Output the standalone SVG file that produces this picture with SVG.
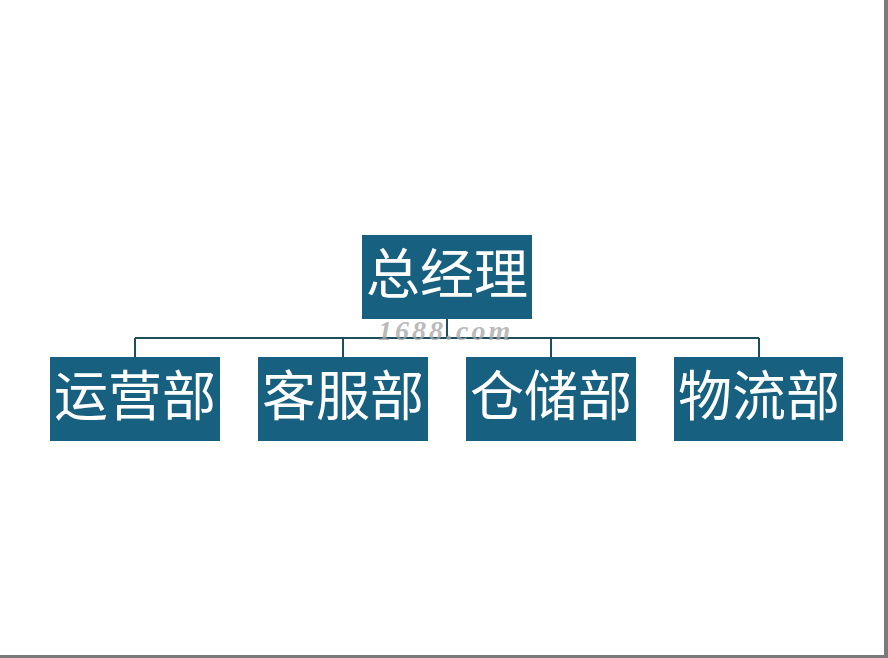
<svg xmlns="http://www.w3.org/2000/svg" width="888" height="658" viewBox="0 0 888 658">
<style>
.box{fill:#17607F;}
.lbl{font-family:"Noto Sans CJK SC","Noto Sans CJK JP",sans-serif;font-size:54px;fill:#ffffff;text-anchor:middle;}
.conn{stroke:#1E4E5E;stroke-width:2;fill:none;}
.wm{font-family:"Liberation Serif",serif;font-style:italic;font-weight:bold;font-size:28px;fill:#a8a8a8;letter-spacing:3px;}
</style>
<rect x="0" y="0" width="888" height="658" fill="#ffffff"/>
<rect x="884" y="0" width="4" height="658" fill="#7a7a7a"/>
<rect x="0" y="655" width="888" height="3" fill="#7a7a7a"/>
<g id="connectors">
<path class="conn" d="M447 318 V338 M135 338 H759 M135 338 V357 M343 338 V357 M551 338 V357 M759 338 V357"/>
</g>
<g id="node-gm"><rect class="box" x="362" y="235" width="170" height="84"/><text class="lbl" x="447" y="294">总经理</text></g>
<g id="node-ops"><rect class="box" x="50" y="357" width="170" height="84"/><text class="lbl" x="135" y="416">运营部</text></g>
<g id="node-cs"><rect class="box" x="258" y="357" width="170" height="84"/><text class="lbl" x="343" y="416">客服部</text></g>
<g id="node-wh"><rect class="box" x="466" y="357" width="170" height="84"/><text class="lbl" x="551" y="416">仓储部</text></g>
<g id="node-log"><rect class="box" x="674" y="357" width="169" height="84"/><text class="lbl" x="759" y="416">物流部</text></g>
<text class="wm" x="378" y="340" fill-opacity="0.8">1688.com</text>
</svg>
